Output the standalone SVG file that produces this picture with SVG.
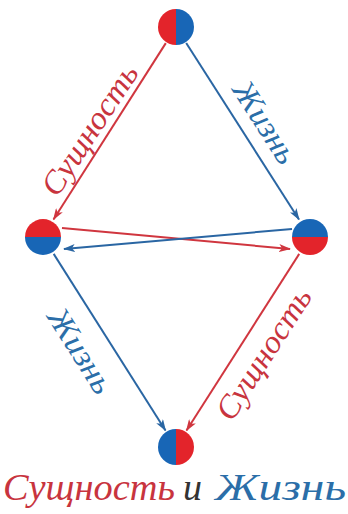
<svg xmlns="http://www.w3.org/2000/svg" width="348" height="514" viewBox="0 0 348 514">
<defs>
<style>
.r{stroke:#d0363f;stroke-width:2;fill:none}
.b{stroke:#2a66a3;stroke-width:2;fill:none}
.lbl{font-family:"Liberation Serif","DejaVu Serif",serif;font-style:italic;font-size:32px;text-anchor:middle}
.cap{font-family:"Liberation Serif","DejaVu Serif",serif;font-style:italic;font-size:38px}
.tr{fill:#c8343e}
.tb{fill:#2b6ea8}
.tg{fill:#333333}
.cr{fill:#e3242b}
.cb{fill:#1866b6}
</style>
<marker id="ar" viewBox="0 0 12 8" refX="11" refY="4" markerWidth="12" markerHeight="8" markerUnits="userSpaceOnUse" orient="auto"><path d="M0,0 L12,4 L0,8 L3,4 Z" fill="#d0363f"/></marker>
<marker id="ab" viewBox="0 0 12 8" refX="11" refY="4" markerWidth="12" markerHeight="8" markerUnits="userSpaceOnUse" orient="auto"><path d="M0,0 L12,4 L0,8 L3,4 Z" fill="#2a66a3"/></marker>
</defs>
<rect width="348" height="514" fill="#ffffff"/>
<g id="connectors">
<line class="r" x1="165.8" y1="43.1" x2="53.5" y2="219.5" marker-end="url(#ar)"/>
<line class="b" x1="186.2" y1="43" x2="299" y2="219.5" marker-end="url(#ab)"/>
<line class="r" x1="62" y1="228" x2="290" y2="249" marker-end="url(#ar)"/>
<line class="b" x1="292" y1="229" x2="64" y2="249" marker-end="url(#ab)"/>
<line class="b" x1="53.7" y1="253.9" x2="165.5" y2="430.5" marker-end="url(#ab)"/>
<line class="r" x1="299.2" y1="253.9" x2="186.5" y2="430.5" marker-end="url(#ar)"/>
<text class="lbl tr" transform="translate(98.4,135.5) rotate(-56.8)" textLength="150" lengthAdjust="spacingAndGlyphs">Сущность</text>
<text class="lbl tb" transform="translate(256.1,127.9) rotate(57.4)" textLength="92" lengthAdjust="spacingAndGlyphs">Жизнь</text>
<text class="lbl tb" transform="translate(71.5,356.3) rotate(57.7)" textLength="95" lengthAdjust="spacingAndGlyphs">Жизнь</text>
<text class="lbl tr" transform="translate(272.5,359.5) rotate(-57.4)" textLength="150" lengthAdjust="spacingAndGlyphs">Сущность</text>
</g>
<g id="node-top">
<path class="cr" d="M176,9 A18,18 0 0 0 176,45 Z"/>
<path class="cb" d="M176,9 A18,18 0 0 1 176,45 Z"/>
</g>
<g id="node-left">
<path class="cr" d="M25,237 A18,18 0 0 1 61,237 Z"/>
<path class="cb" d="M25,237 A18,18 0 0 0 61,237 Z"/>
</g>
<g id="node-right">
<path class="cb" d="M292,237 A18,18 0 0 1 328,237 Z"/>
<path class="cr" d="M292,237 A18,18 0 0 0 328,237 Z"/>
</g>
<g id="node-bottom">
<path class="cb" d="M176,429 A18,18 0 0 0 176,465 Z"/>
<path class="cr" d="M176,429 A18,18 0 0 1 176,465 Z"/>
</g>
<g id="caption">
<text class="cap tr" x="3" y="500" textLength="172" lengthAdjust="spacingAndGlyphs">Сущность</text>
<text class="cap tg" x="183" y="500">и</text>
<text class="cap tb" x="215" y="500" textLength="131" lengthAdjust="spacingAndGlyphs">Жизнь</text>
</g>
</svg>
